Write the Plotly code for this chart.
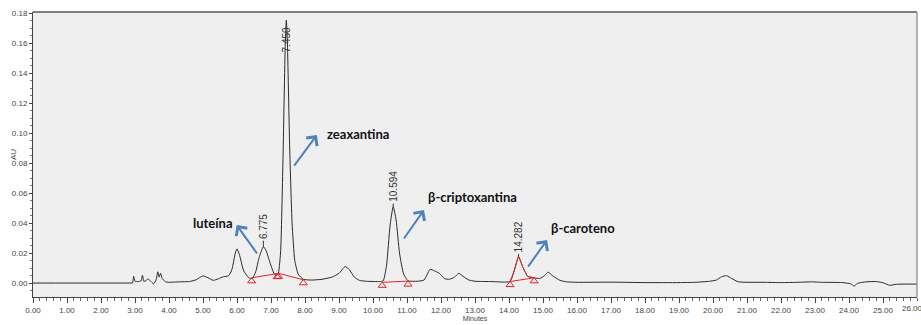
import plotly.graph_objects as go

# Chromatogram trace: retention time (min) and absorbance (AU)
time_min = [
    0.00, 2.90, 2.93, 2.96, 3.00, 3.10, 3.18, 3.22, 3.26, 3.32, 3.38, 3.45, 3.55,
    3.62, 3.67, 3.71, 3.75, 3.80, 3.90, 4.00, 4.30, 4.60, 4.80, 5.00, 5.15, 5.30,
    5.45, 5.60, 5.75, 5.85, 5.95, 6.00, 6.07, 6.20, 6.35, 6.45, 6.55, 6.65, 6.775,
    6.85, 6.95, 7.10, 7.20, 7.28, 7.35, 7.42, 7.45, 7.48, 7.55, 7.62, 7.70, 7.80,
    7.95, 8.20, 8.50, 8.80, 9.00, 9.18, 9.30, 9.45, 9.60, 9.80, 10.20, 10.30, 10.40,
    10.50, 10.594, 10.68, 10.78, 10.90, 11.03, 11.30, 11.50, 11.60, 11.68, 11.80,
    11.95, 12.10, 12.25, 12.40, 12.52, 12.65, 12.80, 13.00, 13.50, 14.03, 14.15,
    14.282, 14.40, 14.55, 14.74, 14.90, 15.05, 15.15, 15.30, 15.50, 15.70, 16.00,
    17.00, 18.00, 19.00, 19.50, 19.90, 20.10, 20.25, 20.40, 20.55, 20.75, 21.50,
    22.00, 22.50, 22.90, 23.20, 23.80, 24.05, 24.15, 24.25, 24.50, 24.80, 25.00,
    25.20, 25.40, 26.00,
]
absorbance = [
    0.0000, 0.0000, 0.0000, 0.0045, 0.0012, 0.0010, 0.0015, 0.0052, 0.0012, 0.0015,
    0.0028, 0.0015, -0.0005, 0.0020, 0.0075, 0.0040, 0.0065, 0.0030, 0.0008, 0.0005,
    0.0008, 0.0010, 0.0022, 0.0048, 0.0035, 0.0018, 0.0028, 0.0042, 0.0048, 0.0090,
    0.0200, 0.0228, 0.0190, 0.0080, 0.0035, 0.0030, 0.0075, 0.0170, 0.0242, 0.0220,
    0.0150, 0.0060, 0.0055, 0.0200, 0.0800, 0.1600, 0.1753, 0.1620, 0.0900, 0.0400,
    0.0150, 0.0060, 0.0025, 0.0020, 0.0025, 0.0040, 0.0065, 0.0110, 0.0090, 0.0040,
    0.0018, 0.0012, 0.0010, 0.0015, 0.0120, 0.0380, 0.0510, 0.0420, 0.0200, 0.0060,
    0.0015, 0.0012, 0.0020, 0.0060, 0.0092, 0.0082, 0.0065, 0.0030, 0.0025, 0.0040,
    0.0065, 0.0045, 0.0022, 0.0012, 0.0010, 0.0010, 0.0080, 0.0175, 0.0110, 0.0045,
    0.0035, 0.0030, 0.0050, 0.0073, 0.0045, 0.0018, 0.0008, 0.0005, 0.0006, 0.0003,
    0.0003, 0.0005, 0.0012, 0.0020, 0.0042, 0.0049, 0.0030, 0.0008, 0.0005, 0.0003,
    0.0005, 0.0008, 0.0005, 0.0003, -0.0005, -0.0020, -0.0002, 0.0008, 0.0010,
    0.0002, -0.0015, -0.0008, -0.0007,
]

# Integrated peaks: retention time, apex height, label
peak_rt = [6.775, 7.450, 10.594, 14.282]
peak_apex = [0.0242, 0.1753, 0.0510, 0.0175]
peak_rt_label = ["6.775", "7.450", "10.594", "14.282"]

# Integration baselines (start/end time and absorbance)
baseline_t = [[6.43, 7.18], [7.22, 7.95], [10.27, 11.03], [14.03, 14.74]]
baseline_au = [[0.0035, 0.0063], [0.0065, 0.0022], [0.0005, 0.0013], [0.0010, 0.0035]]

# Compound names with arrow tail/head (time, AU) and text anchor
compounds = ["luteína", "zeaxantina", "β-criptoxantina", "β-caroteno"]
arrow_tail = [(6.62, 0.0187), (7.65, 0.0773), (10.88, 0.0287), (14.53, 0.0100)]
arrow_head = [(5.99, 0.0387), (8.35, 0.0987), (11.50, 0.0487), (15.12, 0.0287)]
name_pos = [(5.29, 0.0400), (8.58, 0.0993), (11.56, 0.0571), (15.18, 0.0367)]
name_anchor = ["center", "left", "left", "left"]

x_ticks = [float(v) for v in range(0, 27)]
y_ticks = [0.00, 0.02, 0.04, 0.06, 0.08, 0.10, 0.12, 0.14, 0.16, 0.18]

TRACE = "#2b2b2b"
RED = "#e0262b"
BLUE = "#4f81bd"
NARROW = "Liberation Sans Narrow, Arial Narrow, Liberation Sans, sans-serif"

fig = go.Figure()

fig.add_trace(go.Scatter(
    x=time_min, y=absorbance, mode="lines",
    line=dict(color=TRACE, width=1, shape="spline", smoothing=0.5),
    hoverinfo="skip", showlegend=False,
))

# the β-caroteno peak is drawn in red between its integration marks
i0 = time_min.index(baseline_t[3][0])
i1 = time_min.index(baseline_t[3][1])
fig.add_trace(go.Scatter(
    x=time_min[i0:i1 + 1], y=absorbance[i0:i1 + 1], mode="lines",
    line=dict(color=RED, width=1, shape="spline", smoothing=0.5),
    hoverinfo="skip", showlegend=False,
))

# integration baselines with open triangle marks hanging below
for bt, ba in zip(baseline_t, baseline_au):
    fig.add_trace(go.Scatter(
        x=bt, y=ba, mode="lines",
        line=dict(color=RED, width=1), hoverinfo="skip", showlegend=False,
    ))
    fig.add_trace(go.Scatter(
        x=bt, y=[v - 0.0022 for v in ba], mode="markers",
        marker=dict(symbol="triangle-up-open", size=7, color=RED, line=dict(width=1, color=RED)),
        hoverinfo="skip", showlegend=False,
    ))

# retention time labels above each apex
for rt, ap, lab in zip(peak_rt, peak_apex, peak_rt_label):
    if ap > 0.15:
        fig.add_annotation(
            x=rt, y=ap, text=lab, textangle=-90, showarrow=False, yshift=-20,
            font=dict(family="Liberation Sans, Arial, sans-serif", size=10, color="#333333"),
        )
    else:
        fig.add_annotation(
            x=rt, y=ap, text=lab, textangle=-90, showarrow=True,
            arrowhead=0, arrowwidth=1, arrowcolor="#333333", ax=0, ay=-20, standoff=0,
            font=dict(family="Liberation Sans, Arial, sans-serif", size=10, color="#333333"),
        )

# compound names with blue arrows
for name, tail, head, pos, anc in zip(compounds, arrow_tail, arrow_head, name_pos, name_anchor):
    fig.add_annotation(
        x=head[0], y=head[1], ax=tail[0], ay=tail[1], axref="x", ayref="y",
        xref="x", yref="y", text="", showarrow=True,
        arrowhead=4, arrowsize=1.3, arrowwidth=2, arrowcolor=BLUE, standoff=0,
    )
    fig.add_annotation(
        x=pos[0], y=pos[1], text=f"<b>{name}</b>", showarrow=False,
        xanchor=anc, yanchor="middle",
        font=dict(family="Lato, sans-serif", size=13, color="#111111"),
    )

# last time label, nudged so it stays inside the page
fig.add_annotation(
    x=x_ticks[-1], y=0, xref="x", yref="paper", text=f"{x_ticks[-1]:.2f}",
    showarrow=False, yanchor="top", yshift=-5, xshift=-5,
    font=dict(family=NARROW, size=8, color="#444444"),
)

# vertical axis title close to the tick labels
fig.add_annotation(
    x=0, y=0.5, xref="paper", yref="paper", text="AU", textangle=-90,
    showarrow=False, xshift=-26,
    font=dict(family="Liberation Sans, Arial, sans-serif", size=8, color="#444444"),
)

# gray frame on top and right of the plotting area
fig.add_shape(type="line", xref="paper", yref="paper", x0=0, x1=1, y0=1, y1=1,
              line=dict(color="#7f7f7f", width=2))
fig.add_shape(type="line", xref="paper", yref="paper", x0=1, x1=1, y0=0, y1=1,
              line=dict(color="#9a9a9a", width=1.5))

tick_font = dict(family=NARROW, size=8, color="#444444")

fig.update_layout(
    width=921, height=325,
    margin=dict(l=33, r=4, t=12, b=28),
    paper_bgcolor="white", plot_bgcolor="#efefef",
    showlegend=False,
    xaxis=dict(
        range=[0, 26], tickvals=x_ticks[:-1], tickformat=".2f",
        ticks="outside", ticklen=5, tickcolor="#444444", tickfont=tick_font,
        minor=dict(dtick=0.2, ticks="outside", ticklen=3, tickcolor="#666666", showgrid=False),
        showgrid=False, zeroline=False, showline=True, linecolor="#444444", linewidth=1,
        title=dict(text="Minutes", font=dict(family=NARROW, size=7, color="#444444"), standoff=2),
    ),
    yaxis=dict(
        range=[-0.0093, 0.1807], tickvals=y_ticks, tickformat=".2f",
        ticks="outside", ticklen=3, tickcolor="#444444", tickfont=tick_font,
        minor=dict(dtick=0.005, ticks="outside", ticklen=2, tickcolor="#777777", showgrid=False),
        showgrid=False, zeroline=False, showline=True, linecolor="#444444", linewidth=1,
    ),
)

fig.write_html("out.html")
